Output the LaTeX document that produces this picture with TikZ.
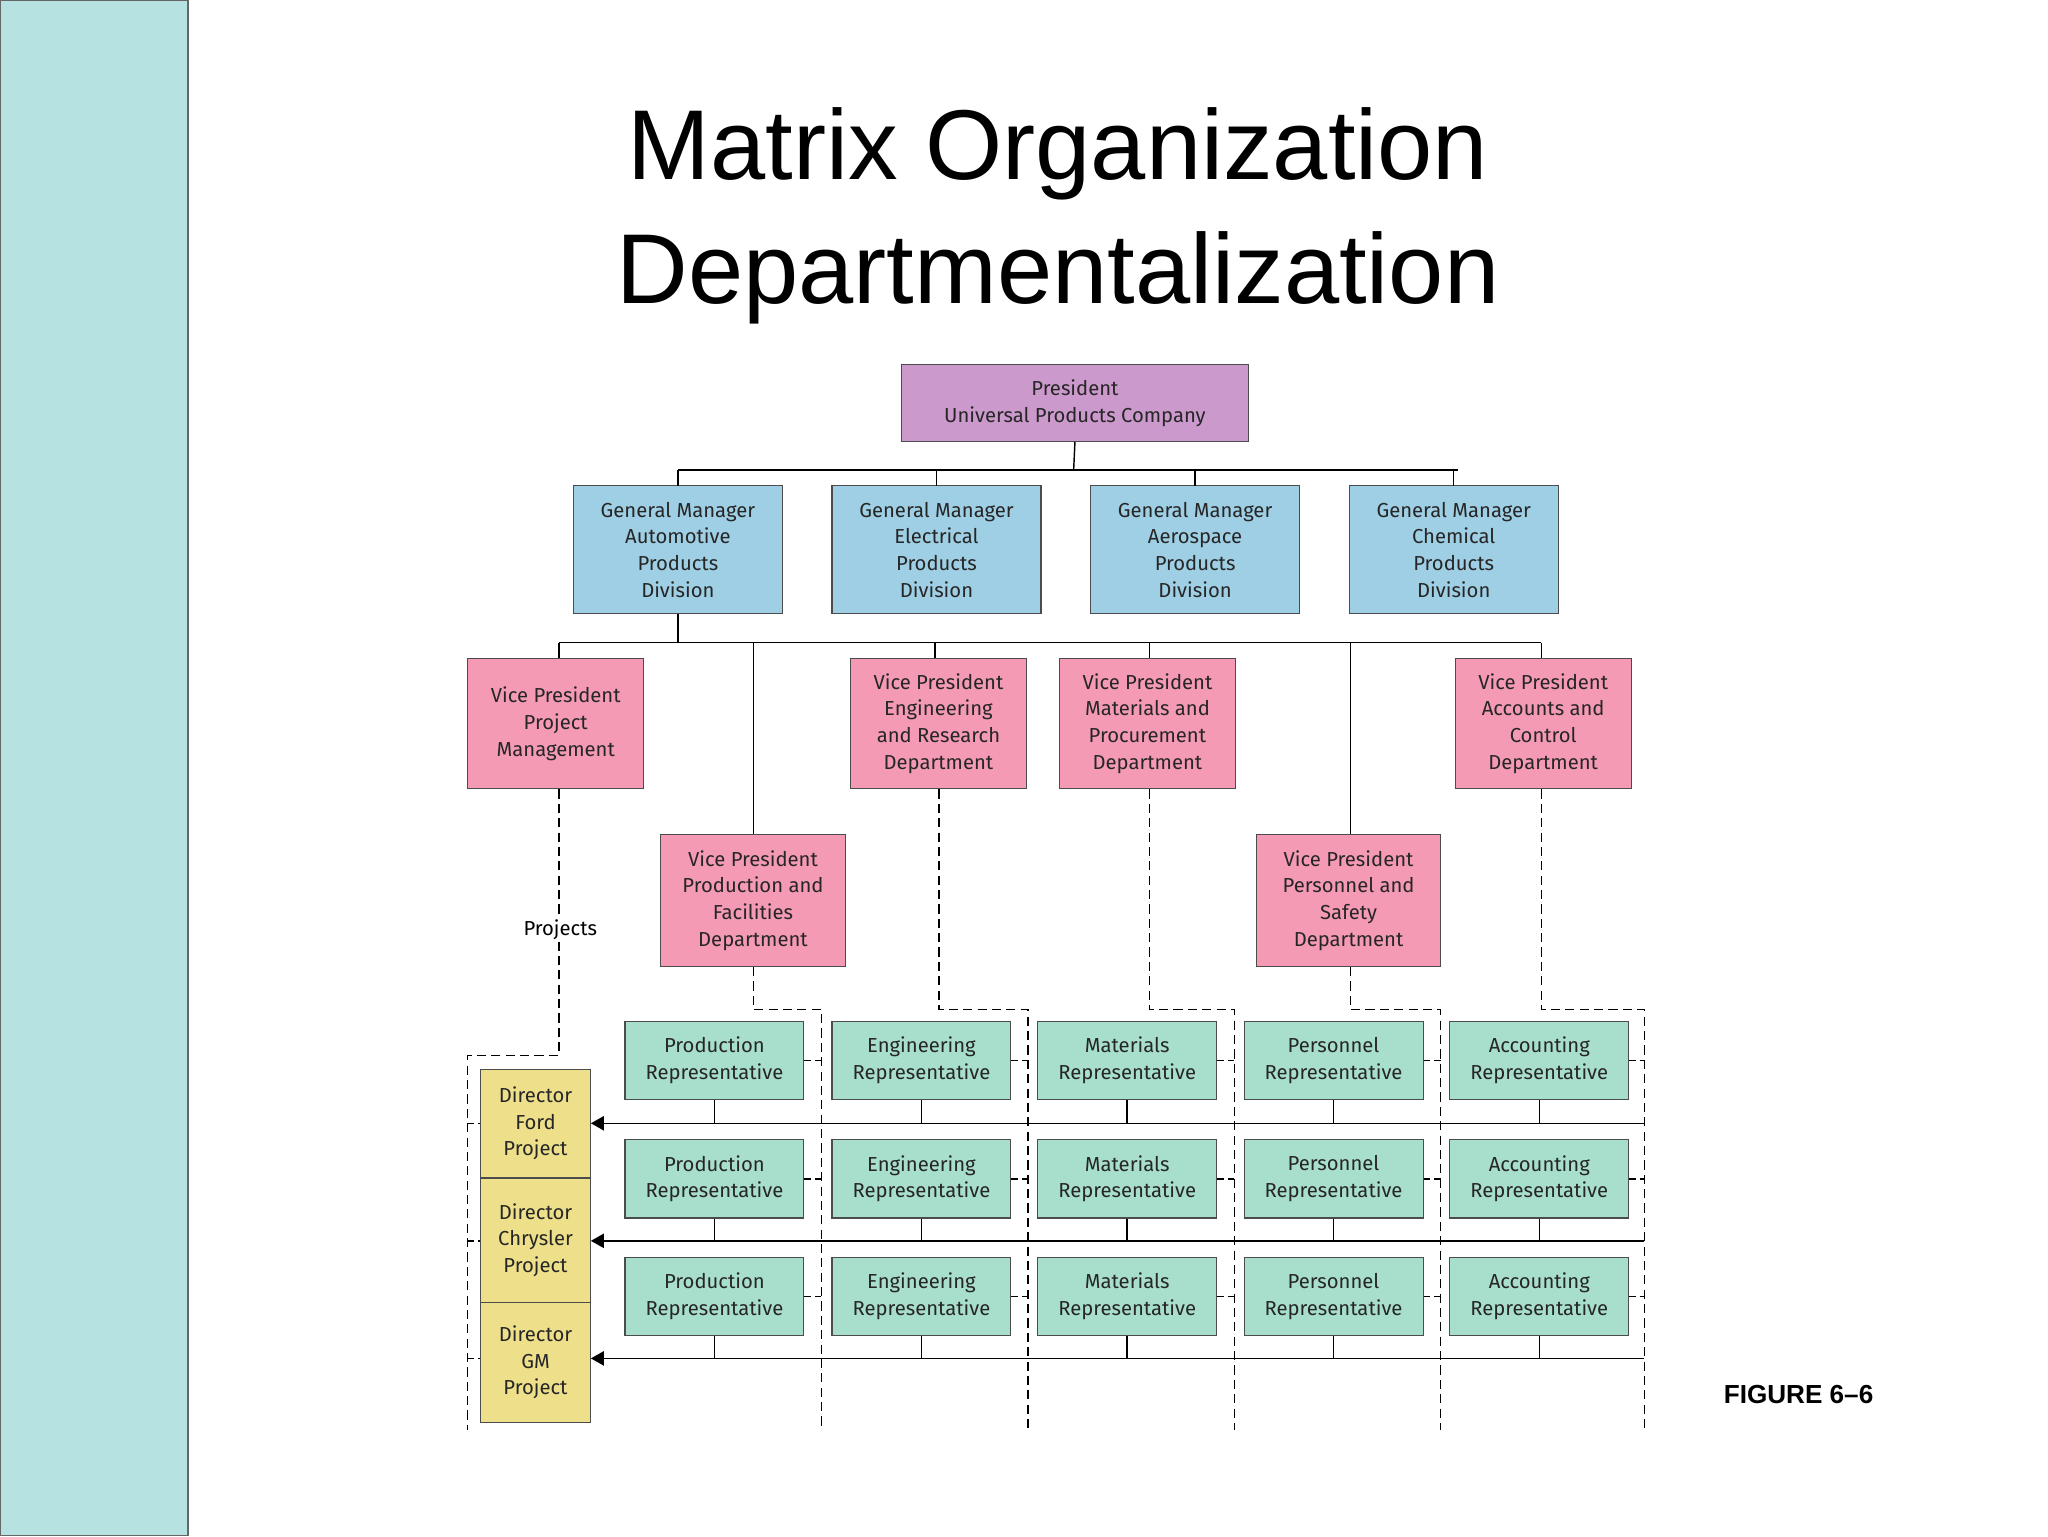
\documentclass[tikz,border=0pt]{standalone}
\usepackage{fontspec}
\setmainfont{Liberation Sans}
\newfontfamily\boxfont{Fira Sans}
\usetikzlibrary{arrows.meta}
\definecolor{pres}{HTML}{CC99CC}
\definecolor{gm}{HTML}{9FCFE4}
\definecolor{vp}{HTML}{F59AB5}
\definecolor{rep}{HTML}{A8DFCC}
\definecolor{dir}{HTML}{EEE08A}
\definecolor{strip}{HTML}{B7E2E2}
\tikzset{
  bx/.style={draw=black!70, line width=0.8pt, align=center, inner sep=0pt,
    font=\boxfont\fontsize{15.5}{20.5}\selectfont, text=black!85},
  dsh/.style={dashed, dash pattern=on 7pt off 4pt, line width=1.1pt},
  sol/.style={line width=1.1pt},
}
\begin{document}
\begin{tikzpicture}[x=1pt,y=-1pt]
\useasboundingbox (0,0) rectangle (1568,1176);
\fill[white] (0,0) rectangle (1568,1176);
\filldraw[fill=strip, draw=black!60, line width=1pt] (0.5,0.5) rectangle (144,1175.5);
\node[font=\fontsize{76}{95}\selectfont, align=center] (title) at (810,165) {Matrix Organization\\Departmentalization};
\node[font=\bfseries\fontsize{20}{24}\selectfont] (fig) at (1377,1068) {FIGURE 6–6};
% top
\node[bx, fill=pres, minimum width=266, minimum height=59] (pres) at (823,308.5) {President\\Universal Products Company};
\foreach \n/\x/\t in {g1/519/Automotive, g2/717/Electrical, g3/915/Aerospace, g4/1113/Chemical}
  \node[bx, fill=gm, minimum width=160, minimum height=98] (\n) at (\x,421) {General Manager\\\t\\Products\\Division};
\coordinate (b1) at (519,360); \coordinate (b4) at (1116,360);
\draw[sol] (pres.south) -- (822,360);
\draw[sol] (b1) -- (b4);
\foreach \x in {519,717,915,1113} \draw[sol] (\x,360) -- (\x,372);
% VPs
\node[bx, fill=vp, minimum width=135, minimum height=100] (vpm) at (425.5,554) {Vice President\\Project\\Management};
\node[bx, fill=vp, minimum width=141, minimum height=101] (vpp) at (576.5,689.5) {Vice President\\Production and\\Facilities\\Department};
\node[bx, fill=vp, minimum width=135, minimum height=100] (vpe) at (718.5,554) {Vice President\\Engineering\\and Research\\Department};
\node[bx, fill=vp, minimum width=135, minimum height=100] (vpt) at (878.5,554) {Vice President\\Materials and\\Procurement\\Department};
\node[bx, fill=vp, minimum width=141, minimum height=101] (vpr) at (1032.5,689.5) {Vice President\\Personnel and\\Safety\\Department};
\node[bx, fill=vp, minimum width=135, minimum height=100] (vpa) at (1181.5,554) {Vice President\\Accounts and\\Control\\Department};
\draw[sol] (g1.south) -- (519,492);
\draw[sol] (428,492) -- (1180,492);
\foreach \x/\n in {428/vpm,577/vpp,716/vpe,880/vpt,1034/vpr,1180/vpa} \draw[sol] (\x,492) -- (\n.north -| \x,0);
\node[font=\boxfont\fontsize{15.5}{20}\selectfont, fill=white, inner sep=1pt] (proj) at (429,712) {Projects};
% dashed column lines
\draw[dsh] (vpm.south -| 428,0) -- (proj.north -| 428,0);
\draw[dsh] (proj.south -| 428,0) -- (428,808) -- (358,808) -- (358,1095);
\draw[dsh] (vpp.south -| 577,0) -- (577,773) -- (629,773) -- (629,1095);
\draw[dsh] (vpe.south -| 719,0) -- (719,773) -- (787,773) -- (787,1095);
\draw[dsh] (vpt.south -| 880,0) -- (880,773) -- (945,773) -- (945,1095);
\draw[dsh] (vpr.south -| 1034,0) -- (1034,773) -- (1103,773) -- (1103,1095);
\draw[dsh] (vpa.south -| 1180,0) -- (1180,773) -- (1259,773) -- (1259,1095);
% directors
\node[bx, fill=dir, minimum width=84, minimum height=83] (d1) at (410,860) {Director\\Ford\\Project};
\node[bx, fill=dir, minimum width=84, minimum height=95] (d2) at (410,949.5) {Director\\Chrysler\\Project};
\node[bx, fill=dir, minimum width=84, minimum height=92] (d3) at (410,1043) {Director\\GM\\Project};
\foreach \d/\y in {d1/860,d2/950,d3/1040} \draw[dsh, dash pattern=on 5pt off 3pt] (358,\y) -- (\d.west |- 0,\y);
% reps
\foreach \r/\y/\ly in {1/812/860, 2/902.5/950, 3/992.5/1040} {
  \foreach \c/\x/\t/\cl in {a/547/Production/629, b/705.5/Engineering/787, c/863/Materials/945, d/1021/Personnel/1103, e/1178.5/Accounting/1259} {
    \node[bx, fill=rep, minimum width=137, minimum height=60] (r\c\r) at (\x,\y) {\t\\Representative};
    \draw[dsh, dash pattern=on 5pt off 3pt] (r\c\r.east) -- (\cl,\y);
    \draw[sol] (r\c\r.south) -- (\x,\ly);
  }
}
\draw[sol, -{Triangle[length=10pt,width=11pt]}] (1259,860) -- (d1.east |- 0,860);
\draw[sol, -{Triangle[length=10pt,width=11pt]}] (1259,950) -- (d2.east |- 0,950);
\draw[sol, -{Triangle[length=10pt,width=11pt]}] (1259,1040) -- (d3.east |- 0,1040);
\end{tikzpicture}
\end{document}
